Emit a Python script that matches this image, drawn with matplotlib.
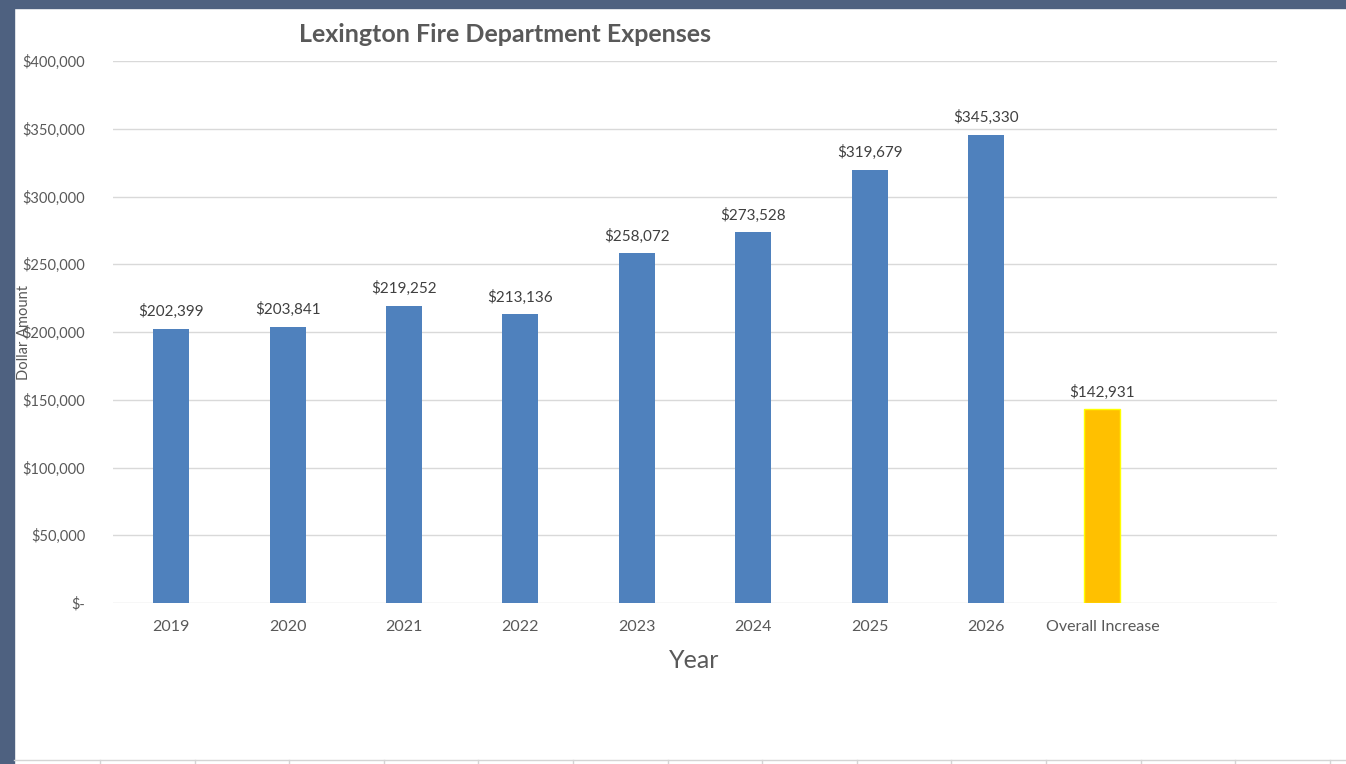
import matplotlib
matplotlib.use("Agg")
import matplotlib.pyplot as plt
from matplotlib.lines import Line2D
from matplotlib.patches import Rectangle

categories = ["2019", "2020", "2021", "2022", "2023", "2024", "2025", "2026", "Overall Increase", ""]
values = [202399, 203841, 219252, 213136, 258072, 273528, 319679, 345330, 142931, None]
ytick_vals = [0, 50000, 100000, 150000, 200000, 250000, 300000, 350000, 400000]
ytick_labels = ["$-", "$50,000", "$100,000", "$150,000", "$200,000", "$250,000",
                "$300,000", "$350,000", "$400,000"]

W, H = 1346, 764
fig = plt.figure(figsize=(W / 100, H / 100), dpi=100)
fig.patch.set_facecolor("white")
plt.rcParams['font.family'] = ['Lato', 'DejaVu Sans']

# window frame
fig.add_artist(Rectangle((0, 0), 14 / W, 1, transform=fig.transFigure, color="#4e6180", zorder=0))
fig.add_artist(Rectangle((0, 1 - 8 / H), 1, 8 / H, transform=fig.transFigure, color="#4e6180", zorder=0))
# spreadsheet cells at bottom
fig.add_artist(Line2D([14 / W, 1], [1 - 759.5 / H] * 2, transform=fig.transFigure, color="#d4d4d4", lw=1))
for k in range(14):
    x = (100 + 94.6 * k) / W
    fig.add_artist(Line2D([x, x], [0, 1 - 760 / H], transform=fig.transFigure, color="#d4d4d4", lw=1))

left, right, top, bottom = 113, 1277, 61, 603
ax = fig.add_axes([left / W, 1 - bottom / H, (right - left) / W, (bottom - top) / H])
ax.set_xlim(-0.5, len(categories) - 0.5)
ax.set_ylim(0, 400000)

xs = list(range(len(categories)))
for i, v in enumerate(values):
    if v is None:
        continue
    if categories[i] == "Overall Increase":
        ax.bar(i, v, width=0.31, color="#ffc000", edgecolor="#ffff00", linewidth=1, zorder=3)
    else:
        ax.bar(i, v, width=0.31, color="#4f81bd", zorder=3)
    ax.annotate(f"${v:,}", (i, v), xytext=(0, 7), textcoords="offset points",
                ha="center", va="bottom", fontsize=11, color="#404040")

ax.set_yticks(ytick_vals)
ax.set_yticklabels(ytick_labels)
ax.set_xticks(xs)
ax.set_xticklabels(categories)
ax.tick_params(axis="both", length=0, labelsize=10.5, labelcolor="#595959")
ax.tick_params(axis="x", labelsize=11.5, pad=12)
ax.tick_params(axis="y", pad=20)
for lab in ax.get_yticklabels():
    lab.set_horizontalalignment("right")
ax.grid(axis="y", color="#d9d9d9", lw=1, zorder=0)
ax.set_axisbelow(True)
for s in ax.spines.values():
    s.set_visible(False)

fig.text(505 / W, 1 - 35 / H, "Lexington Fire Department Expenses", ha="center", va="center",
         fontsize=18, fontweight="bold", color="#595959")
fig.text(694 / W, 1 - 660 / H, "Year", ha="center", va="center", fontsize=18, color="#595959")
fig.text(24 / W, 1 - 332 / H, "Dollar Amount", ha="center", va="center", rotation=90,
         fontsize=10.5, color="#595959")

fig.savefig("out.png", dpi=100)
